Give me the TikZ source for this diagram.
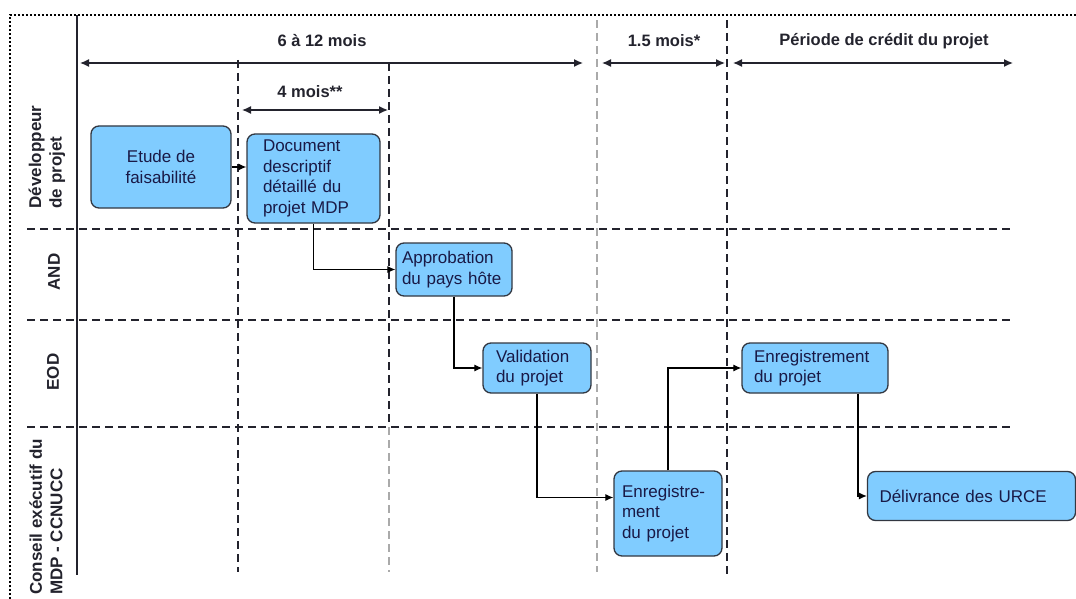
\documentclass[tikz,border=0pt]{standalone}
\usepackage{fontspec}
\setmainfont{Liberation Sans}
\usetikzlibrary{arrows.meta, positioning}
\definecolor{boxblue}{RGB}{128, 204, 255}
\definecolor{boxedge}{RGB}{50, 55, 65}
\definecolor{boxtext}{RGB}{25, 25, 70}
\definecolor{gridgray}{RGB}{170, 170, 170}
\definecolor{headtext}{RGB}{35, 35, 45}

\begin{document}
\begin{tikzpicture}[x=1pt, y=-1pt,
    stepbox/.style={draw=boxedge, fill=boxblue, line width=1.3pt, rounded corners=8pt,
      inner ysep=0pt, text=boxtext, font=\fontsize{17}{20.5}\selectfont},
    lanelabel/.style={rotate=90, align=left, text=headtext, font=\fontsize{17}{20.5}\selectfont\bfseries},
    period/.style={text=headtext, font=\fontsize{16.5}{20}\selectfont\bfseries},
    laneline/.style={line width=1.2pt, dash pattern=on 8pt off 5pt, headtext},
    span/.style={line width=1.3pt, headtext, {Latex[length=9pt,width=8pt]}-{Latex[length=9pt,width=8pt]}},
    flow/.style={line width=1.1pt, black, -{Latex[length=8pt,width=7pt]}}]
  \useasboundingbox (0,0) rectangle (1076,599);

  % --- frame ---
  \draw[line width=2pt, dash pattern=on 2pt off 2pt] (10,599) -- (10,15) -- (1076,15);
  \draw[line width=1.3pt, headtext] (77,15) -- (77,575);

  % --- lanes and time marks ---
  \foreach \y in {229, 320, 427}{
    \draw[laneline] (27,\y) -- (1012,\y);
  }
  \draw[laneline] (238,60) -- (238,572);
  \draw[laneline] (389,63) -- (389,427);
  \draw[laneline, gridgray] (389,427) -- (389,572);
  \draw[laneline, gridgray] (597,20) -- (597,572);
  \draw[laneline] (727,20) -- (727,575);

  % --- durations ---
  \coordinate (a0) at (80,63);
  \coordinate (a1) at (583,63);
  \coordinate (b0) at (602,63);
  \coordinate (b1) at (725,63);
  \coordinate (c0) at (733,63);
  \coordinate (c1) at (1013,63);
  \coordinate (d0) at (242,110);
  \coordinate (d1) at (388,110);
  \draw[span] (a0) -- (a1);
  \draw[span] (b0) -- (b1);
  \draw[span] (c0) -- (c1);
  \draw[span] (d0) -- (d1);
  \node[period] (per612) at (322,41) {6 à 12 mois};
  \node[period] (per4) at (310,92) {4 mois**};
  \node[period] (per15) at (664,41) {1.5 mois*};
  \node[period] (percred) at (884,41) {Période de crédit du projet};

  % --- lane names ---
  \node[lanelabel] (ldev) at (47,157) {Développeur\\de projet};
  \node[lanelabel] (land) at (54,272) {AND};
  \node[lanelabel] (leod) at (53,372) {EOD};
  \node[lanelabel] (lcon) at (46,517) {Conseil exécutif du\\MDP - CCNUCC};

  % --- steps ---
  \node[stepbox, minimum width=140pt, minimum height=82pt, align=center] (etude) at (161,167) {Etude de\\faisabilité};
  \node[stepbox, minimum width=133pt, minimum height=89pt, text width=101pt, inner xsep=16pt, align=left] (ddp) at (313.5,178.5) {Document\\descriptif\\détaillé du\\projet MDP};
  \node[stepbox, minimum width=116pt, minimum height=53pt, text width=104pt, inner xsep=6pt, align=left] (appro) at (454,269.5) {Approbation\\du pays hôte};
  \node[stepbox, minimum width=108pt, minimum height=50pt, text width=82pt, inner xsep=13pt, align=left] (valid) at (537,368) {Validation\\du projet};
  \node[stepbox, minimum width=146pt, minimum height=50pt, text width=122pt, inner xsep=12pt, align=left] (enreod) at (815,368) {Enregistrement\\du projet};
  \node[stepbox, minimum width=108pt, minimum height=85pt, text width=92pt, inner xsep=8pt, align=left] (enrcc) at (668,513.5) {Enregistre-\\ment\\du projet};
  \node[stepbox, minimum width=208pt, minimum height=49pt, text width=184pt, inner xsep=12pt, align=left] (urce) at (971.5,496) {Délivrance des URCE};

  % --- flow ---
  \draw[flow] (etude.east) -- (etude.east -| ddp.west);
  \draw[flow] (ddp.south) |- (appro.west);
  \draw[flow] (appro.south) |- (valid.west);
  \draw[flow] (valid.south) |- ([yshift=16pt]enrcc.west);
  \draw[flow] (enrcc.north) |- (enreod.west);
  \draw[flow] ([xshift=43pt]enreod.south) |- (urce.west);
\end{tikzpicture}
\end{document}
